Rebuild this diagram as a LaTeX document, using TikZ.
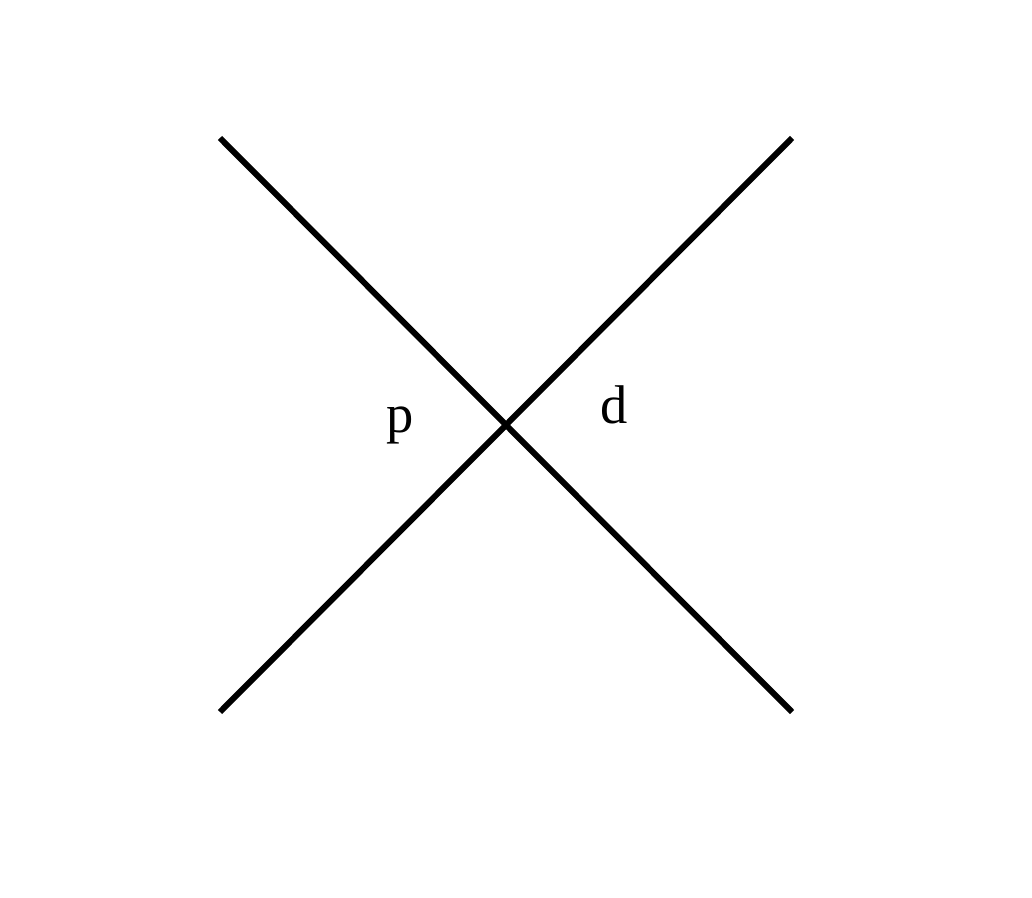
\documentclass[tikz,border=0pt]{standalone}
\usepackage{fontspec}
\setmainfont{Liberation Serif}
\begin{document}
\begin{tikzpicture}[x=0.02cm,y=-0.02cm,
  ln/.style={line width=0.12cm, black},
  lab/.style={font=\fontsize{31}{31}\selectfont, inner sep=0pt}]
\useasboundingbox (0,0) rectangle (1032,898);
\coordinate (tl) at (220,138);
\coordinate (br) at (792,712);
\coordinate (bl) at (220,712);
\coordinate (tr) at (792,138);
\draw[ln] (tl) -- (br);
\draw[ln] (bl) -- (tr);
\node[lab] (p) at (400,425) {p};
\node[lab] (d) at (614,405) {d};
\end{tikzpicture}
\end{document}
